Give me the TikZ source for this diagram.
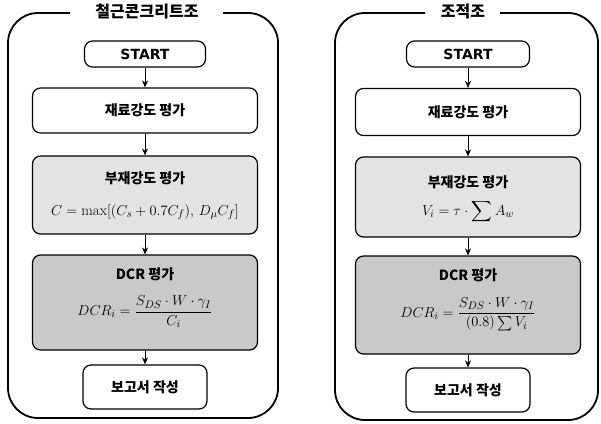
\documentclass[tikz,border=0pt]{standalone}
\usepackage{fontspec}
\usepackage{amsmath}
\usetikzlibrary{arrows.meta}
\newfontfamily\kr{Noto Sans CJK KR}
\newfontfamily\latb{DejaVu Sans}
\tikzset{
  frame/.style={line width=1.8pt, rounded corners=30pt},
  box/.style={draw, line width=1.2pt, rounded corners=8pt, fill=white, inner sep=0pt},
  lightbox/.style={box, fill=gray!22},
  darkbox/.style={box, fill=gray!42},
  lbl/.style={font=\kr\bfseries\fontsize{14}{16}\selectfont, inner sep=0pt},
  startlbl/.style={font=\latb\bfseries\fontsize{14}{16}\selectfont, inner sep=0pt},
  fml/.style={font=\fontsize{15}{17}\selectfont, inner sep=0pt},
  ttl/.style={font=\kr\bfseries\fontsize{16}{18}\selectfont, inner sep=0pt},
  conn/.style={-{Stealth[length=7pt,width=6pt]}, line width=1pt}
}
\begin{document}
\begin{tikzpicture}[x=1pt,y=-1pt]
\useasboundingbox (0,0) rectangle (601,423);
% ---------- left panel ----------
\draw[frame] (70,13) -- (8,13) -- (8,418) -- (278,418) -- (278,13) -- (223,13);
\node[ttl] (LT) at (147,12) {철근콘크리트조};
\node[box, minimum width=121pt, minimum height=26pt] (L1) at (145,54) {};
\node[startlbl] (L1t) at (L1) {START};
\node[box, minimum width=225pt, minimum height=45pt] (L2) at (145,110.5) {};
\node[lbl] (L2t) at (L2) {재료강도 평가};
\node[lightbox, minimum width=225pt, minimum height=78pt] (L3) at (145,195) {};
\node[lbl] (L3t) at (145,178) {부재강도 평가};
\node[fml] (L3f) at (145,212) {$C=\max[(C_s+0.7C_f),\,D_\mu C_f]$};
\node[darkbox, minimum width=225pt, minimum height=95pt] (L4) at (145,302.5) {};
\node[lbl] (L4t) at (145,274) {DCR 평가};
\node[fml] (L4f) at (145,312) {$DCR_i=\dfrac{S_{DS}\cdot W\cdot\gamma_I}{C_i}$};
\node[box, minimum width=124pt, minimum height=44pt] (L5) at (145,387) {};
\node[lbl] (L5t) at (L5) {보고서 작성};
\draw[conn] (L1) -- (L2);
\draw[conn] (L2) -- (L3);
\draw[conn] (L3) -- (L4);
\draw[conn] (L4) -- (L5);
% ---------- right panel ----------
\draw[frame] (425,13) -- (335,13) -- (335,420) -- (598,420) -- (598,13) -- (500,13);
\node[ttl] (RT) at (463,12) {조적조};
\node[box, minimum width=123pt, minimum height=26pt] (R1) at (468,54) {};
\node[startlbl] (R1t) at (R1) {START};
\node[box, minimum width=225pt, minimum height=47pt] (R2) at (468,112) {};
\node[lbl] (R2t) at (R2) {재료강도 평가};
\node[lightbox, minimum width=225pt, minimum height=80pt] (R3) at (468,197) {};
\node[lbl] (R3t) at (468,182) {부재강도 평가};
\node[fml] (R3f) at (468,212) {$V_i=\tau\cdot\displaystyle\sum A_w$};
\node[darkbox, minimum width=225pt, minimum height=98pt] (R4) at (468,305) {};
\node[lbl] (R4t) at (468,275) {DCR 평가};
\node[fml] (R4f) at (468,314) {$DCR_i=\dfrac{S_{DS}\cdot W\cdot\gamma_I}{(0.8)\sum V_i}$};
\node[box, minimum width=124pt, minimum height=44pt] (R5) at (468,390) {};
\node[lbl] (R5t) at (R5) {보고서 작성};
\draw[conn] (R1) -- (R2);
\draw[conn] (R2) -- (R3);
\draw[conn] (R3) -- (R4);
\draw[conn] (R4) -- (R5);
\end{tikzpicture}
\end{document}
